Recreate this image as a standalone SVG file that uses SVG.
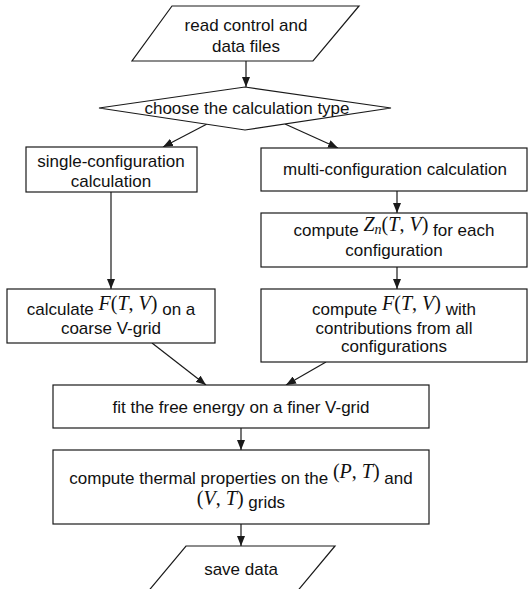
<svg xmlns="http://www.w3.org/2000/svg" width="530" height="589" viewBox="0 0 530 589">
<defs>
<marker id="arr" markerUnits="userSpaceOnUse" markerWidth="10" markerHeight="8" refX="10" refY="4" orient="auto">
<path d="M0,0 L10,4 L0,8 z" fill="#1a1a1a"/>
</marker>
<style>
.s{fill:#fff;stroke:#1a1a1a;stroke-width:1.2}
.t{font-family:"Liberation Sans",Arial,sans-serif;font-size:17px;fill:#111;text-anchor:middle}
.m{font-family:"Liberation Serif","Times New Roman",serif;font-size:20px}
.i{font-style:italic}
.c line{stroke:#1a1a1a;stroke-width:1.2;marker-end:url(#arr)}
</style>
</defs>
<rect width="530" height="589" fill="#fff"/>
<g class="c" id="connectors">
<line x1="246" y1="61" x2="246" y2="87"/>
<line x1="207" y1="124" x2="163" y2="147"/>
<line x1="285" y1="124" x2="338" y2="148"/>
<line x1="111" y1="192" x2="111" y2="289"/>
<line x1="397" y1="191" x2="397" y2="213"/>
<line x1="397" y1="267" x2="397" y2="289"/>
<line x1="152" y1="343" x2="206" y2="385"/>
<line x1="326" y1="362" x2="286" y2="385"/>
<line x1="241" y1="428" x2="241" y2="450"/>
<line x1="241" y1="524" x2="241" y2="546"/>
</g>
<g id="read">
<polygon class="s" points="172,6 359,6 313,61 132,61"/>
<text class="t" x="246" y="31">read control and</text>
<text class="t" x="246" y="52">data files</text>
</g>
<g id="choose">
<polygon class="s" points="245,87 391,108 245,130 99,108"/>
<text class="t" x="247" y="114">choose the calculation type</text>
</g>
<g id="single">
<rect class="s" x="26" y="147" width="171" height="45"/>
<text class="t" x="111" y="167">single-configuration</text>
<text class="t" x="111" y="187">calculation</text>
</g>
<g id="calc">
<rect class="s" x="7" y="289" width="208" height="54"/>
<text class="t" x="111" y="315">calculate <tspan class="m" dy="-5"><tspan class="i">F</tspan>(<tspan class="i">T</tspan>, <tspan class="i">V</tspan>)</tspan><tspan dy="5"> on a</tspan></text>
<text class="t" x="111" y="334">coarse V-grid</text>
</g>
<g id="multi">
<rect class="s" x="261" y="148" width="266" height="43"/>
<text class="t" x="395" y="175">multi-configuration calculation</text>
</g>
<g id="zn">
<rect class="s" x="261" y="213" width="266" height="54"/>
<text class="t" x="394" y="236">compute <tspan class="m" dy="-5"><tspan class="i">Z</tspan><tspan class="i" font-size="14" dy="3">n</tspan><tspan dy="-3">(</tspan><tspan class="i">T</tspan>, <tspan class="i">V</tspan>)</tspan><tspan dy="5"> for each</tspan></text>
<text class="t" x="394" y="256">configuration</text>
</g>
<g id="fcomp">
<rect class="s" x="261" y="289" width="266" height="73"/>
<text class="t" x="394" y="315">compute <tspan class="m" dy="-5"><tspan class="i">F</tspan>(<tspan class="i">T</tspan>, <tspan class="i">V</tspan>)</tspan><tspan dy="5"> with</tspan></text>
<text class="t" x="394" y="334">contributions from all</text>
<text class="t" x="394" y="352">configurations</text>
</g>
<g id="fit">
<rect class="s" x="53" y="385" width="376" height="43"/>
<text class="t" x="241" y="413">fit the free energy on a finer V-grid</text>
</g>
<g id="thermal">
<rect class="s" x="53" y="450" width="376" height="74"/>
<text class="t" x="241" y="484">compute thermal properties on the <tspan class="m" font-size="19" dy="-6">(<tspan class="i">P</tspan>, <tspan class="i">T</tspan>)</tspan><tspan dy="6"> and</tspan></text>
<text class="t" x="241" y="508"><tspan class="m" font-size="19" dy="-3">(<tspan class="i">V</tspan>, <tspan class="i">T</tspan>)</tspan><tspan dy="3"> grids</tspan></text>
</g>
<g id="save">
<polygon class="s" points="186,546 335,546 290,600 141,600"/>
<text class="t" x="241" y="575">save data</text>
</g>
</svg>
